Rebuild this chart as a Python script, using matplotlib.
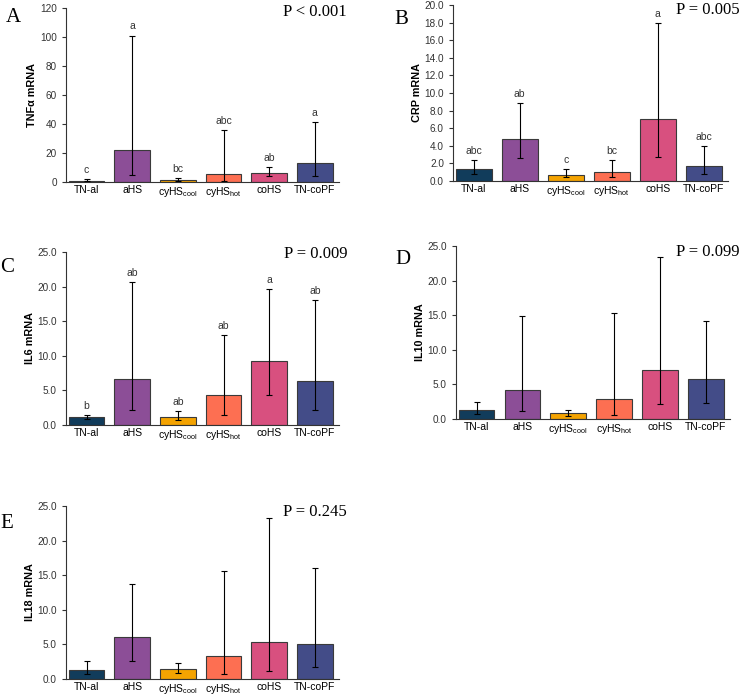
import matplotlib
matplotlib.use("Agg")
import matplotlib.pyplot as plt
import numpy as np

plt.rcParams['font.family'] = ['Liberation Sans', 'DejaVu Sans']
plt.rcParams['mathtext.default'] = 'regular'

groups = ['TN-al', 'aHS', 'cyHS$_{cool}$', 'cyHS$_{hot}$', 'coHS', 'TN-coPF']
colors = ['#113c5b', '#8c4e97', '#f4a301', '#fd6f52', '#d8507f', '#434c88']

# Panel A: TNFa
tnf_mean = [0.8, 21.8, 1.5, 5.3, 6.3, 12.8]
tnf_low = [0.5, 4.9, 0.7, 0.5, 3.8, 4.1]
tnf_high = [1.8, 101.0, 2.5, 35.8, 10.3, 41.5]
tnf_letters = ['c', 'a', 'bc', 'abc', 'ab', 'a']

# Panel B: CRP
crp_mean = [1.33, 4.73, 0.72, 1.02, 7.0, 1.67]
crp_low = [0.8, 2.58, 0.42, 0.5, 2.7, 0.76]
crp_high = [2.4, 8.9, 1.4, 2.39, 17.9, 3.98]
crp_letters = ['abc', 'ab', 'c', 'bc', 'a', 'abc']

# Panel C: IL6
il6_mean = [1.1, 6.7, 1.2, 4.34, 9.22, 6.32]
il6_low = [0.87, 2.17, 0.72, 1.4, 4.34, 2.17]
il6_high = [1.45, 20.66, 2.03, 12.98, 19.7, 18.05]
il6_letters = ['b', 'ab', 'ab', 'ab', 'a', 'ab']

# Panel D: IL10
il10_mean = [1.35, 4.18, 0.87, 2.88, 7.02, 5.72]
il10_low = [0.77, 1.2, 0.48, 0.58, 2.1, 2.3]
il10_high = [2.4, 14.95, 1.3, 15.38, 23.37, 14.23]

# Panel E: IL18
il18_mean = [1.3, 6.06, 1.39, 3.27, 5.34, 5.1]
il18_low = [0.72, 2.64, 0.82, 0.67, 1.2, 1.68]
il18_high = [2.64, 13.8, 2.26, 15.67, 23.3, 16.1]

W, H = 740, 695
fig = plt.figure(figsize=(W / 100, H / 100), dpi=100)


def fr(x0, y0, x1, y1):
    return [x0 / W, 1 - y1 / H, (x1 - x0) / W, (y1 - y0) / H]


def panel(rect, mean, low, high, letters, ylabel, ymax, ystep, fmt, plabel, plx, ply, letter, lx, ly):
    ax = fig.add_axes(fr(*rect))
    x = np.arange(len(groups))
    mean = np.array(mean)
    yerr = [mean - np.array(low), np.array(high) - mean]
    ax.bar(x, mean, width=0.78, color=colors, edgecolor='#3a3a3a', linewidth=0.8, zorder=2)
    ax.errorbar(x, mean, yerr=yerr, fmt='none', ecolor='black', elinewidth=0.8,
                capsize=2.2, capthick=0.8, zorder=3)
    if letters:
        for xi, h, t in zip(x, high, letters):
            ax.annotate(t, (xi, h), xytext=(0, 3), textcoords='offset points',
                        ha='center', va='bottom', fontsize=7.5, color='#333333')
    ax.set_xlim(-0.45, 5.53)
    ax.set_ylim(0, ymax)
    ticks = np.arange(0, ymax + ystep / 2, ystep)
    ax.set_yticks(ticks)
    ax.set_yticklabels([fmt.format(v) for v in ticks])
    ax.set_xticks(x)
    ax.set_xticklabels(groups)
    ax.tick_params(axis='x', length=0, labelsize=7.5, pad=2, colors='black')
    ax.tick_params(axis='y', length=3, width=0.8, labelsize=7.2, direction='out', colors='#333333')
    for s in ['top', 'right']:
        ax.spines[s].set_visible(False)
    for s in ['left', 'bottom']:
        ax.spines[s].set_linewidth(0.8)
        ax.spines[s].set_color('#333333')
    ax.set_ylabel(ylabel, fontsize=7.8, fontweight='bold', labelpad=2)
    fig.text(plx / W, 1 - ply / H, plabel, ha='right', va='center',
             family=['Liberation Serif', 'DejaVu Serif'], fontsize=12)
    fig.text(lx / W, 1 - ly / H, letter, ha='left', va='center',
             family=['Liberation Serif', 'DejaVu Serif'], fontsize=15)
    return ax


panel((66, 8, 339, 182), tnf_mean, tnf_low, tnf_high, tnf_letters, 'TNFα mRNA', 120, 20, '{:.0f}',
      'P < 0.001', 347, 12, 'A', 6, 18)
panel((453, 5, 728, 181), crp_mean, crp_low, crp_high, crp_letters, 'CRP mRNA', 20, 2, '{:.1f}',
      'P = 0.005', 740, 10, 'B', 394, 20)
panel((66, 252, 339, 425), il6_mean, il6_low, il6_high, il6_letters, 'IL6 mRNA', 25, 5, '{:.1f}',
      'P = 0.009', 347, 254, 'C', 0, 267)
panel((456, 246, 730, 419), il10_mean, il10_low, il10_high, None, 'IL10 mRNA', 25, 5, '{:.1f}',
      'P = 0.099', 740, 252, 'D', 395, 259)
panel((66, 506, 339, 679), il18_mean, il18_low, il18_high, None, 'IL18 mRNA', 25, 5, '{:.1f}',
      'P = 0.245', 347, 512, 'E', 0, 523)

fig.savefig('out.png', dpi=100)
